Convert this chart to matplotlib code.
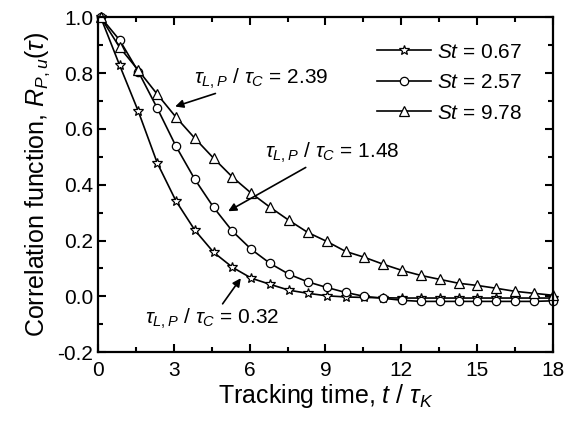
import matplotlib.pyplot as plt
import numpy as np
from matplotlib.ticker import MultipleLocator

plt.rcParams['font.family'] = ['Liberation Sans', 'DejaVu Sans']
plt.rcParams['mathtext.fontset'] = 'custom'
plt.rcParams['mathtext.rm'] = 'Liberation Sans'
plt.rcParams['mathtext.it'] = 'Liberation Sans:italic'

# Tiempo de seguimiento normalizado t / tau_K
t = [0.10, 0.85, 1.59, 2.34, 3.08, 3.83, 4.57, 5.32, 6.07, 6.81, 7.56, 8.30, 9.05,
     9.80, 10.54, 11.29, 12.03, 12.78, 13.52, 14.27, 15.02, 15.76, 16.51, 17.25, 18.00]

# Funciones de correlacion para cada St
r_st067 = [1.0, 0.828, 0.663, 0.478, 0.342, 0.237, 0.158, 0.104, 0.065, 0.043, 0.022,
           0.011, 0.002, -0.002, -0.004, -0.005, -0.006, -0.006, -0.006, -0.006,
           -0.006, -0.006, -0.006, -0.006, -0.006]
r_st257 = [1.0, 0.918, 0.805, 0.674, 0.538, 0.419, 0.319, 0.233, 0.168, 0.118, 0.079,
           0.052, 0.032, 0.014, 0.0, -0.007, -0.014, -0.018, -0.018, -0.018,
           -0.018, -0.018, -0.018, -0.018, -0.016]
r_st978 = [1.0, 0.892, 0.81, 0.724, 0.642, 0.566, 0.495, 0.427, 0.369, 0.319, 0.272,
           0.229, 0.197, 0.161, 0.140, 0.115, 0.093, 0.075, 0.061, 0.047,
           0.039, 0.029, 0.018, 0.011, 0.004]

fig = plt.figure(figsize=(5.64, 4.29), dpi=100)
ax = fig.add_axes([0.174, 0.179, 0.806, 0.781])

ax.plot(t, r_st067, color="black", lw=1.2, marker="*", ms=7, mfc="white", mew=0.9,
        label=r"$St$ = 0.67", clip_on=False)
ax.plot(t, r_st257, color="black", lw=1.2, marker="o", ms=6, mfc="white", mew=0.9,
        label=r"$St$ = 2.57", clip_on=False)
ax.plot(t, r_st978, color="black", lw=1.2, marker="^", ms=7.5, mfc="white", mew=0.9,
        label=r"$St$ = 9.78", clip_on=False)

ax.set_xlim(0, 18)
ax.set_ylim(-0.2, 1.0)
ax.xaxis.set_major_locator(MultipleLocator(3))
ax.xaxis.set_minor_locator(MultipleLocator(1.5))
ax.yaxis.set_major_locator(MultipleLocator(0.2))
ax.yaxis.set_minor_locator(MultipleLocator(0.1))
ax.yaxis.set_major_formatter(plt.FuncFormatter(lambda v, p: f"{v:.1f}"))
ax.tick_params(which="both", direction="in", top=True, right=True, width=1.5, labelsize=15)
ax.tick_params(which="major", length=6)
ax.tick_params(which="minor", length=3.5)
ax.tick_params(axis="x", pad=6)
for s in ax.spines.values():
    s.set_linewidth(1.6)

ax.set_xlabel(r"Tracking time, $t$ / $\tau_K$", fontsize=18, labelpad=2)
ax.set_ylabel(r"Correlation function, $R_{P,u}(\tau)$", fontsize=18, labelpad=4)

leg = ax.legend(loc="upper right", frameon=False, fontsize=15, handlelength=2.6,
                handletextpad=0.3, labelspacing=0.55, bbox_to_anchor=(0.975, 0.98))

# Anotaciones
ax.annotate(r"$\tau_{L,P}$ / $\tau_C$ = 2.39", xy=(3.05, 0.68), xytext=(3.8, 0.78),
            fontsize=15, arrowprops=dict(arrowstyle="-|>", color="black", lw=1.2,
                                         shrinkA=0, shrinkB=0, mutation_scale=12),
            va="center", ha="left")
ax.annotate(r"$\tau_{L,P}$ / $\tau_C$ = 1.48", xy=(5.15, 0.305), xytext=(6.6, 0.515),
            fontsize=15, arrowprops=dict(arrowstyle="-|>", color="black", lw=1.2,
                                         shrinkA=0, shrinkB=0, mutation_scale=12),
            va="center", ha="left")
ax.annotate(r"$\tau_{L,P}$ / $\tau_C$ = 0.32", xy=(5.65, 0.065), xytext=(1.85, -0.08),
            fontsize=15, arrowprops=dict(arrowstyle="-|>", color="black", lw=1.2,
                                         shrinkA=0, shrinkB=0, mutation_scale=12),
            va="center", ha="left")

plt.savefig("out.png", dpi=100)
